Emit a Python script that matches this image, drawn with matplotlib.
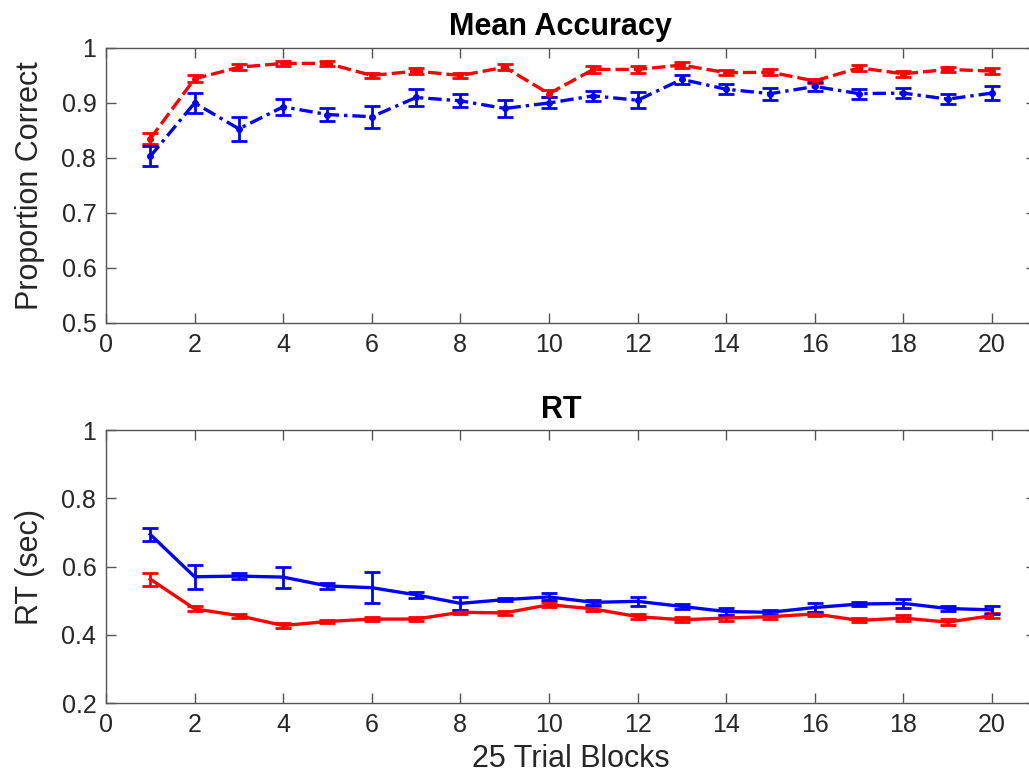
import numpy as np
import matplotlib.pyplot as plt
from matplotlib.ticker import FuncFormatter

plt.rcParams['font.family'] = ['Liberation Sans', 'DejaVu Sans']

blocks = list(range(1, 21))

# mean accuracy (proportion correct) per 25-trial block
acc_red = [0.835, 0.944, 0.965, 0.972, 0.972, 0.950, 0.958, 0.950, 0.965, 0.917,
           0.961, 0.961, 0.969, 0.955, 0.956, 0.940, 0.964, 0.953, 0.961, 0.958]
acc_red_err = [0.010, 0.006, 0.005, 0.005, 0.005, 0.005, 0.005, 0.005, 0.005, 0.006,
               0.006, 0.006, 0.005, 0.005, 0.005, 0.004, 0.005, 0.005, 0.005, 0.006]
acc_blue = [0.803, 0.900, 0.853, 0.893, 0.879, 0.875, 0.910, 0.904, 0.890, 0.900,
            0.913, 0.905, 0.943, 0.925, 0.917, 0.930, 0.917, 0.918, 0.907, 0.918]
acc_blue_err = [0.018, 0.018, 0.022, 0.015, 0.012, 0.020, 0.016, 0.012, 0.015, 0.010,
                0.009, 0.015, 0.008, 0.009, 0.011, 0.008, 0.009, 0.009, 0.009, 0.012]

# reaction time (sec)
rt_red = [0.563, 0.476, 0.456, 0.427, 0.439, 0.446, 0.446, 0.466, 0.464, 0.488,
          0.476, 0.453, 0.444, 0.449, 0.453, 0.461, 0.442, 0.449, 0.437, 0.456]
rt_red_err = [0.019, 0.007, 0.006, 0.008, 0.005, 0.006, 0.006, 0.006, 0.006, 0.007,
              0.007, 0.007, 0.008, 0.008, 0.008, 0.006, 0.006, 0.008, 0.008, 0.008]
rt_blue = [0.694, 0.570, 0.572, 0.569, 0.543, 0.538, 0.517, 0.492, 0.503, 0.511,
           0.495, 0.498, 0.483, 0.468, 0.466, 0.480, 0.490, 0.492, 0.477, 0.473]
rt_blue_err = [0.018, 0.035, 0.010, 0.031, 0.010, 0.045, 0.008, 0.018, 0.005, 0.010,
               0.007, 0.014, 0.007, 0.010, 0.008, 0.013, 0.007, 0.013, 0.007, 0.011]

fig = plt.figure(figsize=(10.29, 7.74), dpi=100)
ax1 = fig.add_axes([0.103, 0.5827, 0.904, 0.3553])
ax2 = fig.add_axes([0.103, 0.0917, 0.904, 0.3527])

fmt = FuncFormatter(lambda v, p: f'{v:g}')


def style(ax):
    ax.tick_params(direction='in', top=True, right=True, length=7, width=1,
                   color='#555555', labelcolor='#262626', labelsize=18, pad=7)
    for s in ax.spines.values():
        s.set_color('#555555')
        s.set_linewidth(1)
    ax.set_xlim(0, 21)
    ax.set_xticks(np.arange(0, 21, 2))
    ax.yaxis.set_major_formatter(fmt)


# top panel
ax1.errorbar(blocks, acc_red, yerr=acc_red_err, color='red', lw=2.4,
             ls=(0, (4, 1.5)), marker='o', ms=4, capsize=6, capthick=2, elinewidth=2)
ax1.errorbar(blocks, acc_blue, yerr=acc_blue_err, color='blue', lw=2.4,
             ls=(0, (4, 1.5, 1, 1.5)), marker='o', ms=4, capsize=6, capthick=2, elinewidth=2)
style(ax1)
ax1.set_ylim(0.5, 1)
ax1.set_yticks(np.arange(0.5, 1.01, 0.1))
ax1.set_ylabel('Proportion Correct', fontsize=22, color='#262626', labelpad=12)
ax1.set_title('Mean Accuracy', fontsize=22, fontweight='bold', x=0.489, pad=9)

# bottom panel
ax2.errorbar(blocks, rt_red, yerr=rt_red_err, color='red', lw=2.4,
             capsize=6, capthick=2, elinewidth=2)
ax2.errorbar(blocks, rt_blue, yerr=rt_blue_err, color='blue', lw=2.4,
             capsize=6, capthick=2, elinewidth=2)
style(ax2)
ax2.set_ylim(0.2, 1)
ax2.set_yticks(np.arange(0.2, 1.01, 0.2))
ax2.set_ylabel('RT (sec)', fontsize=22, color='#262626', labelpad=12)
ax2.set_xlabel('25 Trial Blocks', fontsize=22, color='#262626', labelpad=5)
ax2.set_title('RT', fontsize=22, fontweight='bold', x=0.489, pad=9)

fig.savefig('out.png', dpi=100)
